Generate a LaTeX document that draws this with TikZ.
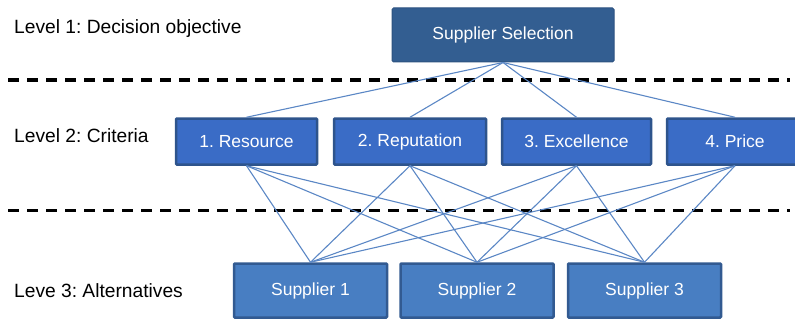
\documentclass[tikz,border=0pt]{standalone}
\usepackage{fontspec}
\setmainfont{Liberation Sans}
\frenchspacing
\definecolor{goalfill}{RGB}{51,94,145}
\definecolor{goaldraw}{RGB}{44,82,128}
\definecolor{critfill}{RGB}{58,108,198}
\definecolor{critdraw}{RGB}{46,84,140}
\definecolor{suppfill}{RGB}{72,126,194}
\definecolor{suppdraw}{RGB}{50,90,145}
\definecolor{linkcol}{RGB}{91,135,197}
\begin{document}
\begin{tikzpicture}[x=1pt,y=-1pt]
    \tikzstyle{box}=[rectangle, inner sep=0pt, text=white, font=\fontsize{17.5}{20}\selectfont];
    \tikzstyle{goalbox}=[box, draw=goaldraw, fill=goalfill, line width=1pt, rounded corners=1.5pt, minimum width=222pt, minimum height=54pt];
    \tikzstyle{critbox}=[box, draw=critdraw, fill=critfill, line width=2.5pt, rounded corners=1pt, minimum height=46pt];
    \tikzstyle{suppbox}=[box, draw=suppdraw, fill=suppfill, line width=2.5pt, rounded corners=1pt, minimum width=153pt, minimum height=54pt];
    \tikzstyle{level}=[anchor=west, inner sep=0pt, font=\fontsize{19.2}{22}\selectfont];
    \tikzstyle{link}=[draw=linkcol, line width=1.1pt];
    \tikzstyle{divider}=[draw=black, line width=3pt, dash pattern=on 11pt off 8pt];
    \useasboundingbox (0,0) rectangle (795,321);
    % level labels
    \node[level] (l1) at (14,29) {Level 1: Decision objective};
    \node[level] (l2) at (14,136) {Level 2: Criteria};
    \node[level] (l3) at (14,291) {Leve 3: Alternatives};
    % dashed separators
    \coordinate (d1a) at (8,80);
    \coordinate (d1b) at (790,80);
    \coordinate (d2a) at (8,210);
    \coordinate (d2b) at (790,210);
    \draw[divider] (d1a) -- (d1b);
    \draw[divider] (d2a) -- (d2b);
    % goal, criteria, alternatives
    \node[goalbox] (goal) at (503,35) {Supplier Selection};
    \node[critbox, minimum width=141pt] (c1) at (246.5,141.5) {1. Resource};
    \node[critbox, minimum width=152pt] (c2) at (410,141.5) {2. Reputation};
    \node[critbox, minimum width=149pt] (c3) at (576.5,141.5) {3. Excellence};
    \node[critbox, minimum width=136pt] (c4) at (735,141.5) {4. Price};
    \node[suppbox] (s1) at (310.5,290.5) {Supplier 1};
    \node[suppbox] (s2) at (477,290.5) {Supplier 2};
    \node[suppbox] (s3) at (644.5,290.5) {Supplier 3};
    % links
    \foreach \i in {1,...,4} {
        \draw[link] (goal.south) -- (c\i.north);
        \foreach \j in {1,...,3}
            \draw[link] (c\i.south) -- (s\j.north);
    }
\end{tikzpicture}
\end{document}
